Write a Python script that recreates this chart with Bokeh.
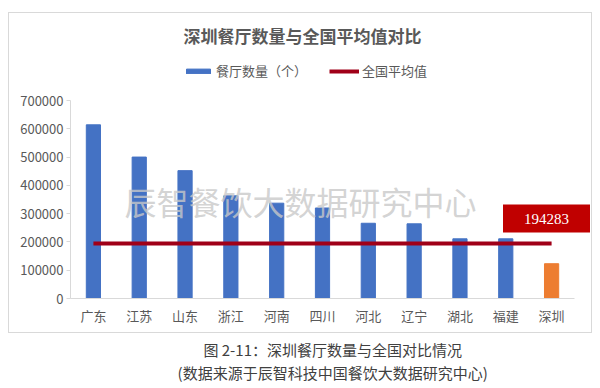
from bokeh.plotting import figure
from bokeh.layouts import column
from bokeh.models import (Label, Legend, LegendItem, ColumnDataSource,
                          BasicTickFormatter, FixedTicker, Range1d)
from bokeh.embed import file_html
from bokeh.resources import INLINE

# ---- data ----
provinces = ["广东", "江苏", "山东", "浙江", "河南", "四川", "河北", "辽宁", "湖北", "福建", "深圳"]
restaurants = [614000, 500000, 452000, 363000, 337000, 320000, 266000, 264000, 211000, 211000, 123000]
national_avg = 194283
y_ticks = [0, 100000, 200000, 300000, 400000, 500000, 600000, 700000]

title_text = "深圳餐厅数量与全国平均值对比"
legend_bar = "餐厅数量（个）"
legend_line = "全国平均值"
watermark = "辰智餐饮大数据研究中心"
caption1 = "图 2-11：深圳餐厅数量与全国对比情况"
caption2 = "(数据来源于辰智科技中国餐饮大数据研究中心)"

FONT = "Noto Sans CJK SC"

# ---- layout geometry (pixels) ----
CW, CH = 584, 321          # chart panel canvas
B_LEFT, B_RIGHT, B_TOP, B_BOTTOM = 61, 2, 4, 36
AXIS_H = 198               # pixel height of 0..700000
CAT_W = 504 / 11           # pixel width per category
frame_w = CW - B_LEFT - B_RIGHT
frame_h = CH - B_TOP - B_BOTTOM
y_end = 700000 * frame_h / AXIS_H
x_end = -0.5 + frame_w / CAT_W

idx = list(range(len(provinces)))
colors = ["#ED7D31" if c == "深圳" else "#4472C4" for c in provinces]
src = ColumnDataSource(dict(x=idx, y=restaurants, color=colors))
avg_src = ColumnDataSource(dict(x=idx, y=[national_avg] * len(provinces)))

p = figure(x_range=Range1d(-0.5, x_end), y_range=Range1d(0, y_end), width=CW, height=CH,
           output_backend="svg", toolbar_location=None,
           min_border_left=B_LEFT, min_border_right=B_RIGHT,
           min_border_top=B_TOP, min_border_bottom=B_BOTTOM)
p.margin = (12, 8, 0, 8)
p.styles = {"border": "1px solid #d9d9d9"}
p.outline_line_color = None
p.grid.grid_line_color = None

bars = p.vbar(x="x", top="y", width=0.31, color="color", source=src)
line = p.line(x="x", y="y", line_color="#A00018", line_width=4, source=avg_src)

# axes
p.yaxis.ticker = FixedTicker(ticks=y_ticks)
p.yaxis.formatter = BasicTickFormatter(use_scientific=False)
p.yaxis.bounds = (0, 700000)
p.xaxis.ticker = FixedTicker(ticks=idx)
p.xaxis.major_label_overrides = {i: c for i, c in enumerate(provinces)}
p.xaxis.bounds = (-0.5, len(provinces) - 0.5)
for ax in (p.xaxis[0], p.yaxis[0]):
    ax.axis_line_color = "#d9d9d9"
    ax.major_tick_line_color = "#d9d9d9"
    ax.minor_tick_line_color = None
    ax.major_label_text_color = "#595959"
    ax.major_label_text_font_size = "13px"
    ax.major_label_text_font = FONT
p.yaxis.major_tick_in = 0
p.yaxis.major_tick_out = 4
p.yaxis.major_label_standoff = 3
p.xaxis.major_tick_line_color = None
p.xaxis.major_tick_in = 0
p.xaxis.major_tick_out = 0
p.xaxis.major_label_standoff = 7

def lab(x, y, text, **kw):
    # x, y in screen pixels relative to frame's bottom-left
    p.add_layout(Label(x=x, y=y, x_units="screen", y_units="screen", text=text,
                       text_align="center", text_baseline="middle", **kw))

# title
lab(232, 263, title_text, text_font=FONT, text_font_size="17px",
    text_font_style="bold", text_color="#595959")

# legend
legend = Legend(items=[LegendItem(label=legend_bar, renderers=[bars]),
                       LegendItem(label=legend_line, renderers=[line])],
                orientation="horizontal", location=(113, 218),
                glyph_width=30, glyph_height=6, spacing=22, label_standoff=3,
                label_text_font=FONT, label_text_font_size="13px", label_text_color="#595959",
                border_line_color=None, background_fill_alpha=0, padding=0, margin=0)
p.add_layout(legend, "center")

# watermark
lab(230, 98, watermark, text_font=FONT, text_font_size="32px",
    text_color="#c8c8c8", text_alpha=0.8)

# average value box
lab(476, 80, str(national_avg), text_font="Liberation Serif", text_font_size="15px",
    text_color="white", background_fill_color="#C00000", padding=(21, 9))

# caption figure
c = figure(x_range=Range1d(0, 600), y_range=Range1d(0, 54), width=600, height=54,
           output_backend="svg", toolbar_location=None, min_border=0)
c.axis.visible = False
c.grid.grid_line_color = None
c.outline_line_color = None
c.add_layout(Label(x=303, y=38, text=caption1, text_align="center", text_baseline="middle",
                   text_font=FONT, text_font_size="15px", text_color="#404040"))
c.add_layout(Label(x=303, y=15, text=caption2, text_align="center", text_baseline="middle",
                   text_font=FONT, text_font_size="15px", text_color="#404040"))

layout = column(p, c, spacing=0)
open("out.html", "w").write(file_html(layout, INLINE))
